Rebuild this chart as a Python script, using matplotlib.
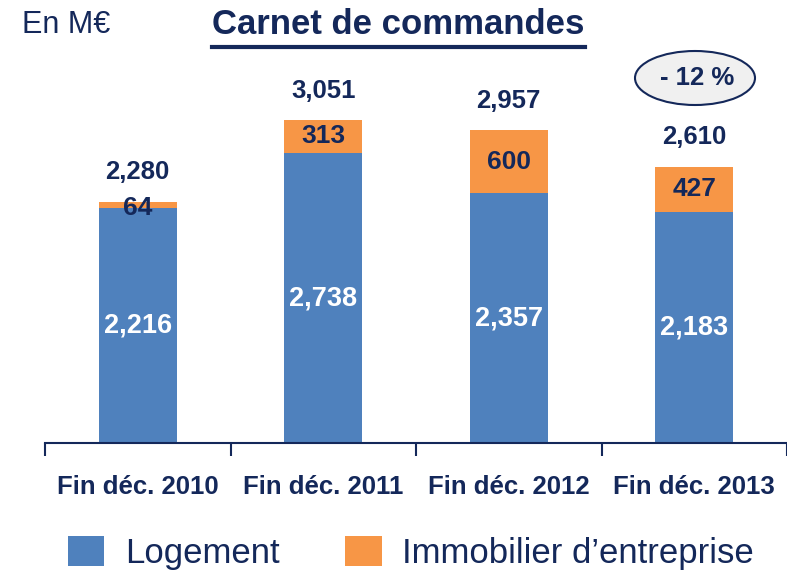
import matplotlib.pyplot as plt
import numpy as np
from matplotlib.patches import Ellipse

categories = ["Fin déc. 2010", "Fin déc. 2011", "Fin déc. 2012", "Fin déc. 2013"]
logement = [2216, 2738, 2357, 2183]
entreprise = [64, 313, 600, 427]
totals = ["2,280", "3,051", "2,957", "2,610"]
variation = "- 12 %"

blue = "#4F81BD"
orange = "#F79646"
navy = "#14285A"

plt.rcParams["font.family"] = ["Liberation Sans", "DejaVu Sans"]


def fmt(v):
    return f"{v:,}"


def make_chart():
    fig = plt.figure(figsize=(7.87, 5.77), dpi=100)
    # baseline at 443 px, 0.1059 px per unit
    ax = fig.add_axes([45 / 787, 1 - 443 / 577, 742 / 787, 403 / 577])
    x = np.arange(len(categories))
    width = 0.42

    ax.bar(x, logement, width, color=blue, label="Logement")
    ax.bar(x, entreprise, width, bottom=logement, color=orange,
           label="Immobilier d\u2019entreprise")

    for xi, lo, en, tot in zip(x, logement, entreprise, totals):
        ax.text(xi, lo / 2, fmt(lo), ha="center", va="center", color="white",
                fontsize=19.5, fontweight="bold")
        # the thin 2010 segment label sits a little lower, as in the source
        ax.annotate(fmt(en), (xi, lo + en / 2), xytext=(0, -2 if en < 100 else 0),
                    textcoords="offset points", ha="center", va="center",
                    color=navy, fontsize=19, fontweight="bold")
        ax.annotate(tot, (xi, lo + en), xytext=(0, 21), textcoords="offset points",
                    ha="center", va="center", color=navy, fontsize=18.5,
                    fontweight="bold")

    ax.set_xlim(-0.5, len(categories) - 0.5)
    ax.set_ylim(0, 3805)
    for side in ["top", "right", "left"]:
        ax.spines[side].set_visible(False)
    ax.spines["bottom"].set_color(navy)
    ax.spines["bottom"].set_linewidth(1.5)
    ax.set_yticks([])
    ax.set_xticks(np.arange(len(categories) + 1) - 0.5)
    ax.set_xticklabels([])
    ax.tick_params(axis="x", length=9, width=1.5, color=navy, direction="out")
    for xi, cat in zip(x, categories):
        ax.text(xi, -0.108, cat, transform=ax.get_xaxis_transform(),
                ha="center", va="center", color=navy, fontsize=18.5,
                fontweight="bold")

    fig.text(22 / 787, 1 - 25 / 577, "En M\u20ac", ha="left", va="center",
             color=navy, fontsize=22)
    fig.text(398 / 787, 1 - 24 / 577, "Carnet de commandes", ha="center",
             va="center", color=navy, fontsize=25, fontweight="bold")
    fig.add_artist(plt.Line2D([212 / 787, 585 / 787], [1 - 47 / 577, 1 - 47 / 577],
                              color=navy, linewidth=3))

    fig.add_artist(Ellipse((695 / 787, 1 - 78 / 577), 120 / 787, 54 / 577,
                           transform=fig.transFigure, facecolor="#F0F0F0",
                           edgecolor=navy, linewidth=1.5))
    fig.text(697 / 787, 1 - 78 / 577, variation, ha="center", va="center",
             color=navy, fontsize=18.5, fontweight="bold")

    fig.legend(loc="center", bbox_to_anchor=(411 / 787, 1 - 553 / 577), ncol=2,
               frameon=False, fontsize=25, handlelength=1.04, handleheight=0.95,
               columnspacing=1.9, handletextpad=0.6, labelcolor=navy)

    fig.savefig("out.png", dpi=100)


if __name__ == "__main__":
    make_chart()
